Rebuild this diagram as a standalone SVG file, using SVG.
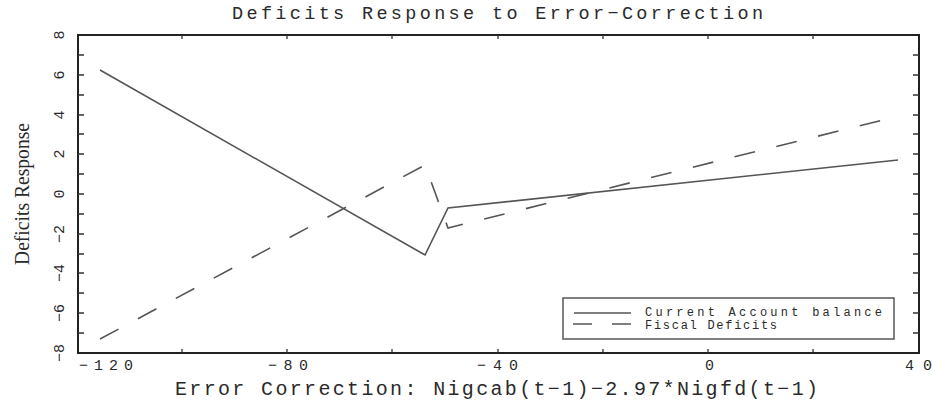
<svg xmlns="http://www.w3.org/2000/svg" width="932" height="406" viewBox="0 0 932 406">
<style>
.mono{font-family:"Liberation Mono","DejaVu Sans Mono",monospace;fill:#2a2a2a}
.serif{font-family:"Liberation Serif","DejaVu Serif",serif;fill:#2a2a2a}
.tick{stroke:#333;stroke-width:1.3}
.solid{fill:none;stroke:#555;stroke-width:1.6}
.dash{fill:none;stroke:#555;stroke-width:1.6;stroke-dasharray:21 22}
</style>
<rect width="932" height="406" fill="#fff"/>
<g id="title">
<text class="mono" x="232" y="19" font-size="18.5" textLength="531" lengthAdjust="spacing">Deficits Response to Error−Correction</text>
</g>
<g id="frame">
<rect x="78" y="35" width="841" height="318" fill="none" stroke="#222" stroke-width="2"/>
</g>
<g id="ticks">
<path class="tick" d="M182 35v4M287 35v4M392 35v4M498 35v4M603 35v4M708 35v4M813 35v4M182 353v-4M287 353v-4M392 353v-4M498 353v-4M603 353v-4M708 353v-4M813 353v-4"/>
<path class="tick" d="M78 55h6M78 75h6M78 95h6M78 115h6M78 134h6M78 154h6M78 174h6M78 194h6M78 214h6M78 234h6M78 254h6M78 273h6M78 293h6M78 313h6M78 333h6M919 55h-6M919 75h-6M919 95h-6M919 115h-6M919 134h-6M919 154h-6M919 174h-6M919 194h-6M919 214h-6M919 234h-6M919 254h-6M919 273h-6M919 293h-6M919 313h-6M919 333h-6"/>
</g>
<g id="x-tick-labels" class="mono" font-size="15">
<text x="79" y="370" textLength="54" lengthAdjust="spacing">−120</text>
<text x="268" y="370" textLength="40" lengthAdjust="spacing">−80</text>
<text x="477" y="370" textLength="41" lengthAdjust="spacing">−40</text>
<text x="705" y="370">0</text>
<text x="905" y="370" textLength="27" lengthAdjust="spacing">40</text>
</g>
<g id="y-tick-labels" class="mono" font-size="15" text-anchor="middle">
<text transform="translate(64 35) rotate(-90)">8</text>
<text transform="translate(64 75) rotate(-90)">6</text>
<text transform="translate(64 115) rotate(-90)">4</text>
<text transform="translate(64 154) rotate(-90)">2</text>
<text transform="translate(64 194) rotate(-90)">0</text>
<text transform="translate(64 234) rotate(-90)">−2</text>
<text transform="translate(64 273) rotate(-90)">−4</text>
<text transform="translate(64 313) rotate(-90)">−6</text>
<text transform="translate(64 353) rotate(-90)">−8</text>
</g>
<g id="axis-labels">
<text class="serif" transform="translate(29 265) rotate(-90)" font-size="22" textLength="142" lengthAdjust="spacingAndGlyphs">Deficits Response</text>
<text class="mono" x="175" y="395" font-size="20" textLength="643" lengthAdjust="spacing">Error Correction: Nigcab(t−1)−2.97*Nigfd(t−1)</text>
</g>
<g id="series">
<polyline id="current-account" class="solid" points="100,70 425,255 448,208 898,160"/>
<polyline id="fiscal-deficits" class="dash" points="100,339 425,165 448,228 895,117"/>
</g>
<g id="legend">
<rect x="563" y="298" width="331" height="41" fill="#fff" stroke="#555" stroke-width="1.5"/>
<line class="solid" x1="574" y1="313" x2="631" y2="313"/>
<path class="solid" d="M573 324h19M612 324h19"/>
<text class="mono" x="645" y="316" font-size="12" textLength="237" lengthAdjust="spacing">Current Account balance</text>
<text class="mono" x="645" y="329" font-size="12" textLength="132" lengthAdjust="spacing">Fiscal Deficits</text>
</g>
</svg>
